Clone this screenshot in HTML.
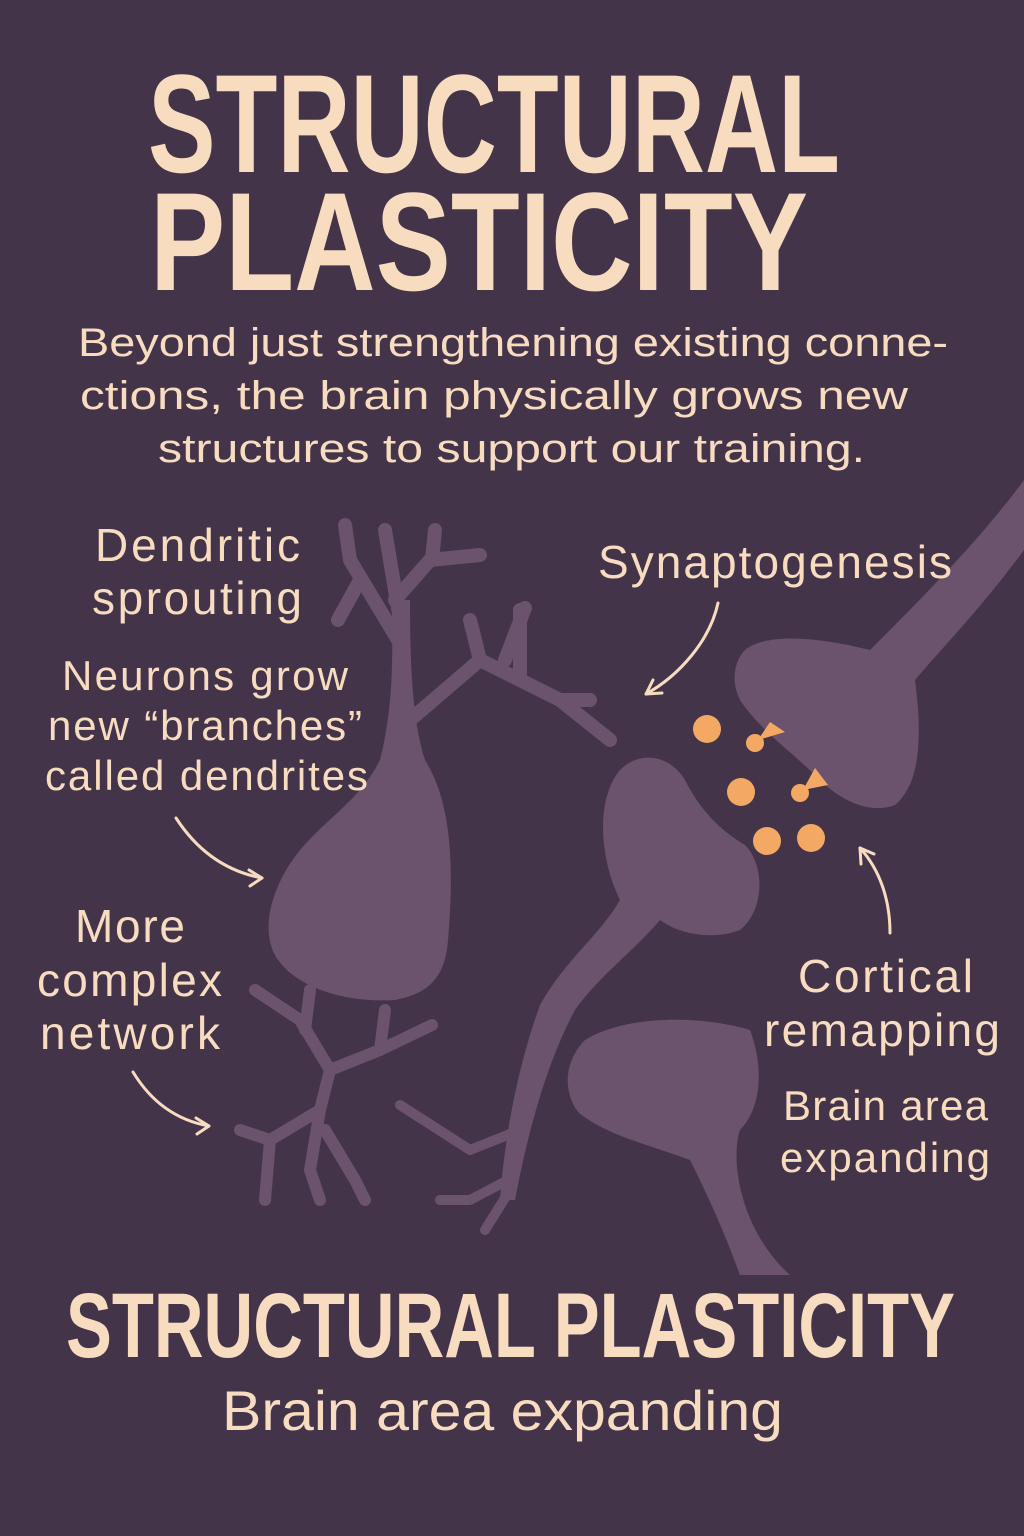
<!DOCTYPE html>
<html><head><meta charset="utf-8"><style>
html,body{margin:0;padding:0;background:#44344a;}
svg{display:block}
text{font-family:"Liberation Sans",sans-serif;fill:#f8dcc0}
.t{font-weight:bold}
</style></head><body>
<svg width="1024" height="1536" viewBox="0 0 1024 1536">
<rect width="1024" height="1536" fill="#44344a"/>
<g fill="#6b526d" stroke="#6b526d" stroke-linecap="round" stroke-linejoin="round">
<!-- left big neuron -->
<path stroke="none" d="M380 760 C395 700 392 650 392 600 L410 600 C410 660 412 720 425 760 C450 800 455 860 448 940 C445 985 420 995 395 1000 C350 1003 300 990 278 960 C260 935 268 890 300 850 C330 815 360 800 380 760 Z"/>
<g fill="none" stroke-width="14">
<path d="M400 620 L385 530"/><path d="M398 640 L350 560 L345 525"/><path d="M360 580 L338 620"/><path d="M395 600 L430 560 L480 555"/><path d="M432 560 L435 530"/>
<path d="M410 720 L480 660 L560 700 L610 740"/><path d="M480 660 L470 620"/><path d="M520 680 L520 610"/><path d="M560 700 L590 700"/>
<path d="M505 660 L525 608"/>
</g>
<!-- middle neuron -->
<path stroke="none" d="M620 900 C600 860 595 800 620 770 C640 750 670 755 685 780 C700 810 720 830 745 845 C765 865 765 910 740 930 C715 940 680 935 660 920 C635 950 600 975 575 1010 C548 1060 528 1130 515 1200 L500 1200 C505 1130 520 1060 540 1005 C565 960 600 935 620 900 Z"/>
<g fill="none" stroke-width="10">
<path d="M520 1130 L470 1150 L400 1105"/><path d="M508 1180 L470 1200 L440 1200"/><path d="M510 1190 L485 1230"/>
</g>
<!-- right top neuron -->
<path stroke="none" d="M745 650 C770 630 830 640 870 650 C920 600 980 540 1024 480 L1024 550 C980 610 940 650 915 680 C920 720 925 780 895 805 C870 815 840 800 820 780 C790 750 760 730 740 700 C730 680 735 660 745 650 Z"/>
<!-- bottom neuron -->
<path stroke="none" d="M585 1040 C625 1015 700 1015 750 1030 C765 1070 760 1110 740 1130 C730 1160 740 1230 790 1275 L740 1275 C720 1220 700 1180 690 1160 C650 1145 605 1135 578 1112 C562 1090 565 1060 585 1040 Z"/>
<!-- bottom-left dendrites -->
<g fill="none" stroke-width="12">
<path d="M255 990 L300 1020 L330 1070 L320 1110 L310 1170 L320 1200"/>
<path d="M330 1070 L380 1050 L432 1025"/><path d="M380 1050 L385 1010"/><path d="M305 1030 L310 990"/>
<path d="M320 1110 L270 1140 L240 1130"/><path d="M270 1140 L265 1200"/><path d="M325 1130 L355 1180 L365 1200"/>
</g>
</g>
<!-- dots -->
<g fill="#f3a964">
<circle cx="707" cy="729" r="14"/><circle cx="741" cy="792" r="14"/><circle cx="767" cy="841" r="14"/><circle cx="811" cy="838" r="14"/>
<circle cx="755" cy="743" r="9"/><path d="M758 740 L770 722 L785 732 Z"/>
<circle cx="800" cy="793" r="9"/><path d="M803 790 L815 768 L828 785 Z"/>
</g>
<!-- arrows -->
<g fill="none" stroke="#f8dcc0" stroke-width="3" stroke-linecap="round">
<path d="M718 603 C710 640 680 675 646 694"/><path d="M646 694 L662 693 M646 694 L653 680"/>
<path d="M890 933 C890 900 880 870 860 848"/><path d="M860 848 L861 864 M860 848 L874 854"/>
<path d="M176 818 C200 855 230 872 262 878"/><path d="M262 878 L249 870 M262 878 L250 886"/>
<path d="M133 1072 C150 1100 175 1120 209 1126"/><path d="M209 1126 L196 1118 M209 1126 L197 1134"/>
</g>
<!-- text -->
<text class="t" x="148" y="172" font-size="140" textLength="692" lengthAdjust="spacingAndGlyphs">STRUCTURAL</text>
<text class="t" x="150" y="290" font-size="140" textLength="658" lengthAdjust="spacingAndGlyphs">PLASTICITY</text>
<text x="78" y="356" font-size="40" textLength="870" lengthAdjust="spacingAndGlyphs">Beyond just strengthening existing conne-</text>
<text x="80" y="409" font-size="40" textLength="828" lengthAdjust="spacingAndGlyphs">ctions, the brain physically grows new</text>
<text x="158" y="462" font-size="40" textLength="707" lengthAdjust="spacingAndGlyphs">structures to support our training.</text>
<g font-size="46" lengthAdjust="spacingAndGlyphs">
<text x="95" y="561" textLength="205">Dendritic</text>
<text x="92" y="614" textLength="210">sprouting</text>
<text x="62" y="690" font-size="42" textLength="286">Neurons grow</text>
<text x="48" y="740" font-size="42" textLength="314">new “branches”</text>
<text x="45" y="790" font-size="42" textLength="323">called dendrites</text>
<text x="75" y="942" textLength="110">More</text>
<text x="37" y="996" textLength="185">complex</text>
<text x="40" y="1049" textLength="180">network</text>
<text x="598" y="578" textLength="354">Synaptogenesis</text>
<text x="798" y="992" textLength="175">Cortical</text>
<text x="764" y="1046" textLength="236">remapping</text>
<text x="783" y="1120" font-size="42" textLength="205">Brain area</text>
<text x="780" y="1172" font-size="42" textLength="210">expanding</text>
</g>
<text class="t" x="66" y="1357" font-size="92" textLength="889" lengthAdjust="spacingAndGlyphs">STRUCTURAL PLASTICITY</text>
<text x="222" y="1430" font-size="56" textLength="561" lengthAdjust="spacingAndGlyphs">Brain area expanding</text>
</svg>
</body></html>
